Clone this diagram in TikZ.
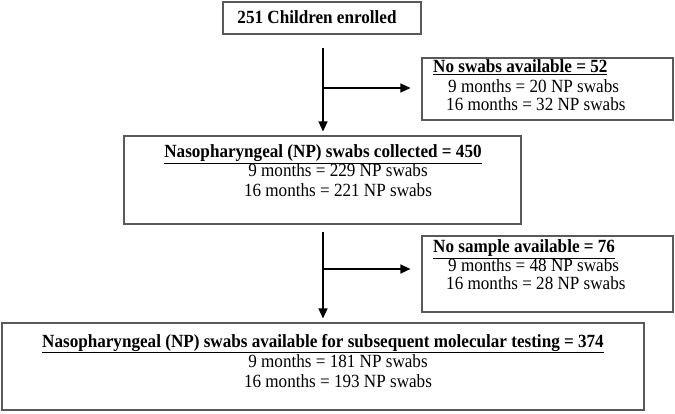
\documentclass[tikz,border=0pt]{standalone}
\usepackage{fontspec}
\setmainfont{Liberation Serif}[FakeStretch=0.92]
\usetikzlibrary{arrows.meta}

\begin{document}
\begin{tikzpicture}[x=1pt, y=-1pt,
  box/.style={draw=black!65, line width=1.1pt, inner sep=0pt},
  txt/.style={inner sep=0pt, anchor=base, font=\fontsize{18.6}{21}\selectfont},
  head/.style={txt, font=\fontsize{18.6}{21}\selectfont\bfseries},
  flow/.style={line width=1.4pt, -{Triangle[length=10pt,width=9pt]}}]

  \useasboundingbox (0,0) rectangle (675,414);

  % main column boxes
  \node[box, minimum width=198pt, minimum height=32pt] (enrol) at (322,18) {};
  \node[box, minimum width=397pt, minimum height=88pt] (coll) at (322.5,180) {};
  \node[box, minimum width=642pt, minimum height=87pt] (avail) at (323,366.5) {};
  % exclusion boxes on the right
  \node[box, minimum width=251pt, minimum height=62pt] (noswab) at (547.5,89) {};
  \node[box, minimum width=251pt, minimum height=76pt] (nosamp) at (547.5,274) {};

  % texts
  \node[head] (enrolT) at (317,24) {251 Children enrolled};

  \node[head, anchor=base west] (noswabT) at (433,73) {\underline{No swabs available = 52}};
  \node[txt, anchor=base west] (noswabA) at (448,93) {9 months = 20 NP swabs};
  \node[txt, anchor=base west] (noswabB) at (446,111) {16 months = 32 NP swabs};

  \node[head] (collT) at (323,158) {\underline{Nasopharyngeal (NP) swabs collected = 450}};
  \node[txt] (collA) at (338,177) {9 months = 229 NP swabs};
  \node[txt] (collB) at (338,197) {16 months = 221 NP swabs};

  \node[head, anchor=base west] (nosampT) at (433,253) {\underline{No sample available = 76}};
  \node[txt, anchor=base west] (nosampA) at (448,272) {9 months = 48 NP swabs};
  \node[txt, anchor=base west] (nosampB) at (446,290) {16 months = 28 NP swabs};

  \node[head] (availT) at (323,347) {\underline{Nasopharyngeal (NP) swabs available for subsequent molecular testing = 374}};
  \node[txt] (availA) at (338,367) {9 months = 181 NP swabs};
  \node[txt] (availB) at (338,387) {16 months = 193 NP swabs};

  % arrows down the column
  \draw[flow, shorten <=13pt, shorten >=4pt] (enrol.south -| 323,0) -- (coll.north -| 323,0);
  \draw[flow, shorten <=7pt, shorten >=4pt] (coll.south -| 323,0) -- (avail.north -| 323,0);

  % side arrows to the exclusion boxes
  \coordinate (br1) at (323,88);
  \coordinate (br2) at (323,269);
  \draw[flow, shorten >=11pt] (br1) -- (br1 -| noswab.west);
  \draw[flow, shorten >=11pt] (br2) -- (br2 -| nosamp.west);
\end{tikzpicture}
\end{document}
